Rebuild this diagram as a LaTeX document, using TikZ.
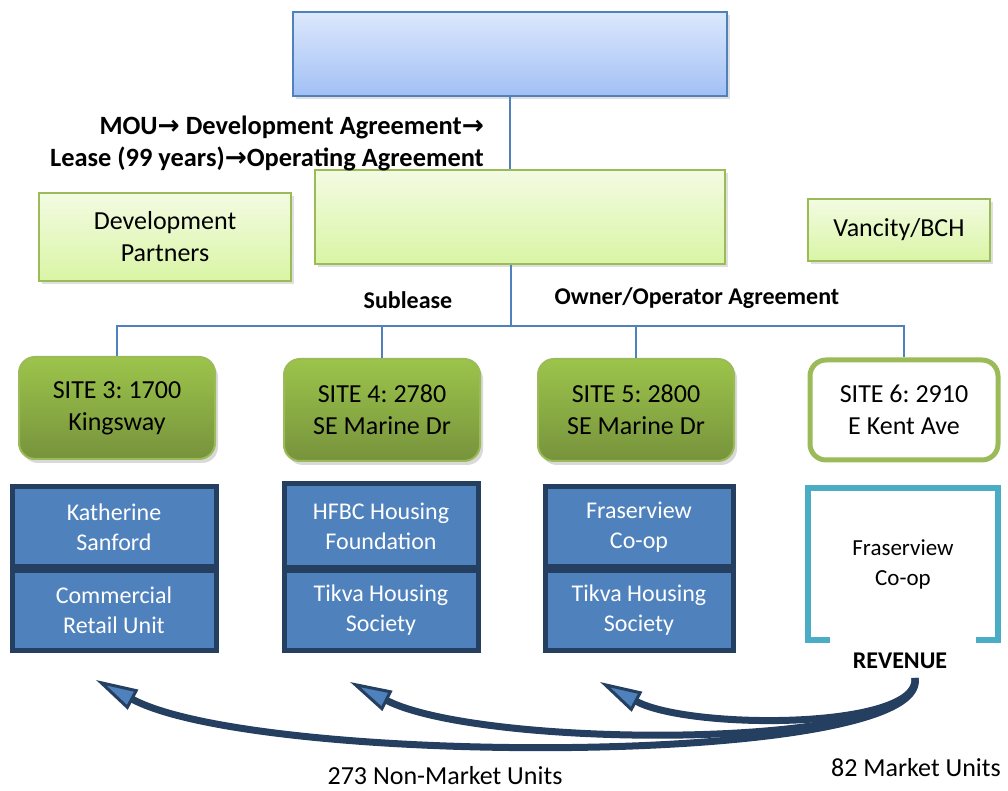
\documentclass[tikz,border=0pt]{standalone}
\usepackage{fontspec}
\setmainfont{Carlito}
\newfontfamily\arrowfont{DejaVu Sans}
\usepackage{tikz}
\usetikzlibrary{arrows.meta, positioning, shadows}
\definecolor{LineBlue}{HTML}{4F81BD}
\definecolor{TopLight}{HTML}{DCE8FC}
\definecolor{TopDark}{HTML}{A2C0F5}
\definecolor{LimeLight}{HTML}{F3FBE2}
\definecolor{LimeDark}{HTML}{D9F5A5}
\definecolor{LimeEdge}{HTML}{9BBB59}
\definecolor{SiteLight}{HTML}{9CC44B}
\definecolor{SiteDark}{HTML}{77933C}
\definecolor{UnitBlue}{HTML}{4F81BD}
\definecolor{NavyEdge}{HTML}{243F60}
\definecolor{RevenueCyan}{HTML}{4BACC6}
\newcommand{\nextstep}{{\arrowfont\bfseries →}}
\frenchspacing
\tikzset{
  % Box styles
  topbox/.style={rectangle, draw=LineBlue, line width=1pt, top color=TopLight, bottom color=TopDark, minimum width=217pt, minimum height=42pt, drop shadow={shadow xshift=1.5pt, shadow yshift=-1.5pt, opacity=0.25}},
  limebox/.style={rectangle, draw=LimeEdge, line width=1pt, top color=LimeLight, bottom color=LimeDark, font=\fontsize{13}{16}\selectfont, align=center, drop shadow={shadow xshift=1.5pt, shadow yshift=-1.5pt, opacity=0.25}},
  sitebox/.style={rectangle, rounded corners=8pt, draw=LimeEdge, line width=1pt, top color=SiteLight, bottom color=SiteDark, minimum width=98pt, minimum height=51pt, font=\fontsize{13}{16}\selectfont, align=center, drop shadow={shadow xshift=1.5pt, shadow yshift=-2pt, opacity=0.3}},
  opensite/.style={rectangle, rounded corners=8pt, draw=LimeEdge, line width=2.5pt, fill=white, minimum width=94pt, minimum height=50pt, font=\fontsize{13}{16}\selectfont, align=center},
  unitbox/.style={rectangle, draw=NavyEdge, line width=2.5pt, fill=UnitBlue, text=white, minimum height=40pt, font=\fontsize{12}{15}\selectfont, align=center},
  % Text styles
  steplabel/.style={font=\bfseries\fontsize{13.2}{16}\selectfont},
  unitlabel/.style={font=\fontsize{13}{16}\selectfont},
  % Arrow styles
  conn/.style={draw=LineBlue, line width=0.75pt},
  flowarrow/.style={draw=NavyEdge, line width=3.5pt, -{Triangle[length=21pt, width=11pt, line width=1.5pt, fill=UnitBlue]}}
}
\begin{document}
\begin{tikzpicture}[x=0.5pt, y=-0.5pt]
  \useasboundingbox (0,0) rectangle (1008,791);

  % Top of the chart
  \node[topbox] (top) at (510,54) {};
  \node[limebox, minimum width=205pt, minimum height=47pt] (mid) at (520,217) {};
  \node[steplabel, align=right, anchor=east] (steps) at (491,143) {MOU\nextstep{} Development Agreement\nextstep\\Lease (99 years)\nextstep Operating Agreement};
  \node[limebox, minimum width=126pt, minimum height=44pt] (partners) at (165,237) {Development\\Partners};
  \node[limebox, minimum width=91pt, minimum height=31pt] (vancity) at (899,230) {Vancity/BCH};

  % Sites
  \node[sitebox] (site3) at (117,408) {SITE 3: 1700\\Kingsway};
  \node[sitebox] (site4) at (382,410) {SITE 4: 2780\\SE Marine Dr};
  \node[sitebox] (site5) at (636,410) {SITE 5: 2800\\SE Marine Dr};
  \node[opensite] (site6) at (904,410) {SITE 6: 2910\\E Kent Ave};

  \node[steplabel, font=\bfseries\fontsize{12}{14}\selectfont] (sublease) at (408,300) {Sublease};
  \node[steplabel, font=\bfseries\fontsize{12}{14}\selectfont] (owner) at (697,298) {Owner/Operator Agreement};

  % Connectors
  \coordinate (bus) at (511,326);
  \draw[conn] (top.south) -- (top.south |- mid.north);
  \draw[conn] (bus |- mid.south) -- (bus);
  \draw[conn] (site3.north) |- (bus) -| (site6.north);
  \draw[conn] (bus -| site4.north) -- (site4.north);
  \draw[conn] (bus -| site5.north) -- (site5.north);

  % Housing operators
  \node[unitbox, minimum width=102pt] (ks) at (114,527) {Katherine\\Sanford};
  \node[unitbox, minimum width=102pt] (cru) at (114,610) {Commercial\\Retail Unit};
  \node[unitbox, minimum width=97pt, minimum height=42pt] (hfbc) at (381,526) {HFBC Housing\\Foundation};
  \node[unitbox, minimum width=97pt] (tikva4) at (381,610) {Tikva Housing\\Society};
  \node[unitbox, minimum width=94pt] (fras5) at (639,527) {Fraserview\\Co-op};
  \node[unitbox, minimum width=94pt] (tikva5) at (639,610) {Tikva Housing\\Society};

  % Market site
  \node[minimum width=95pt, minimum height=76pt, align=center, font=\fontsize{11.5}{15}\selectfont] (fras6) at (903,564) {Fraserview\\Co-op};
  \draw[draw=RevenueCyan, line width=3pt] ([xshift=11pt]fras6.south west) -- (fras6.south west) -- (fras6.north west) -- (fras6.north east) -- (fras6.south east) -- ([xshift=-11pt]fras6.south east);
  \node[steplabel, font=\bfseries\fontsize{12}{14}\selectfont] (revenue) at (900,661) {REVENUE};

  % Revenue flows
  \coordinate (flow) at (915,678);
  \coordinate (tip3) at (96,680);
  \coordinate (tip4) at (350,682);
  \coordinate (tip5) at (600,682);
  \draw[flowarrow] (flow) .. controls (932,767) and (260,767) .. (tip3);
  \draw[flowarrow] (flow) .. controls (926,750) and (485,750) .. (tip4);
  \draw[flowarrow] (flow) .. controls (920,730) and (690,730) .. (tip5);

  \node[unitlabel] (nonmarket) at (445,776) {273 Non-Market Units};
  \node[unitlabel] (market) at (916,768) {82 Market Units};
\end{tikzpicture}
\end{document}
